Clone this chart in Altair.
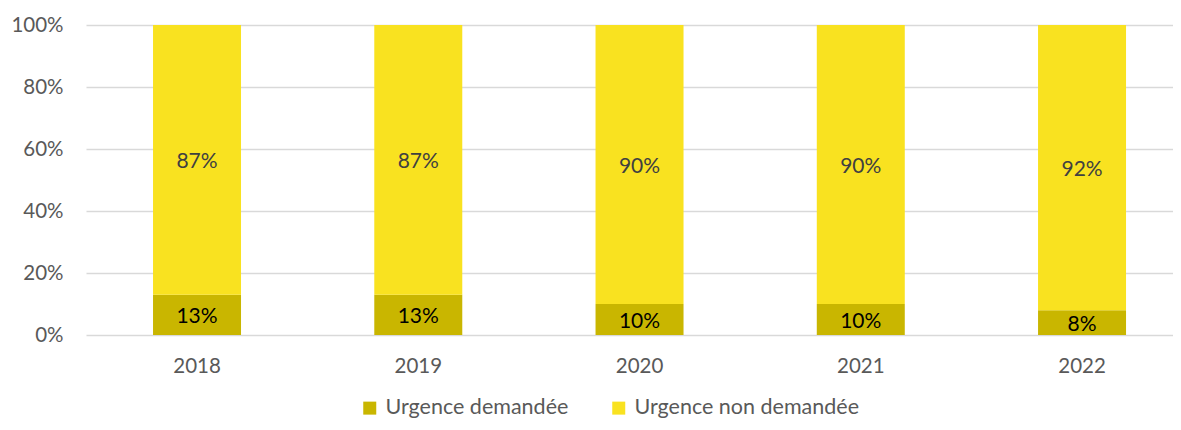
import altair as alt
import pandas as pd

years = ["2018", "2019", "2020", "2021", "2022"]
series = ["Urgence demandée", "Urgence non demandée"]
urgence_demandee = [13, 13, 10, 10, 8]
urgence_non_demandee = [87, 87, 90, 90, 92]
colors = ["#C9B600", "#F9E220"]
label_colors = ["#000000", "#404040"]

rows = []
for i, y in enumerate(years):
    rows.append({"year": y, "serie": series[0], "value": urgence_demandee[i], "ord": 0})
    rows.append({"year": y, "serie": series[1], "value": urgence_non_demandee[i], "ord": 1})
df = pd.DataFrame(rows)

FONT = "Lato"

xscale = alt.Scale(domain=years, paddingInner=0.6023, paddingOuter=0.2576, align=0.588)
yscale = alt.Scale(domain=[0, 100], nice=False)

base = alt.Chart(df).transform_stack(
    stack="value", groupby=["year"], as_=["v0", "v1"], sort=[alt.SortField("ord")]
).transform_calculate(
    mid="(datum.v0 + datum.v1) / 2",
    label="datum.value + '%'",
)

bars = base.mark_bar().encode(
    x=alt.X("year:N", scale=xscale, title=None,
            axis=alt.Axis(labelAngle=0, ticks=False, domain=False, labelPadding=21,
                          labelFontSize=20.5, labelColor="#595959", labelFont=FONT)),
    y=alt.Y("v0:Q", scale=yscale, title=None,
            axis=alt.Axis(values=[0, 20, 40, 60, 80, 100], labelExpr="datum.value + '%'",
                          ticks=False, domain=False, labelPadding=23, gridColor="#D9D9D9",
                          gridWidth=1.5, labelFontSize=20.5, labelColor="#595959", labelFont=FONT)),
    y2="v1:Q",
    color=alt.Color("serie:N", scale=alt.Scale(domain=series, range=colors),
                    legend=alt.Legend(title=None, orient="none", direction="horizontal",
                                      legendX=273, legendY=372, symbolType="square",
                                      symbolSize=169, symbolStrokeWidth=0, labelFontSize=21.5,
                                      labelColor="#595959", labelFont=FONT, columnPadding=39,
                                      labelOffset=5, labelLimit=400, symbolOpacity=1)),
)

texts = base.mark_text(fontSize=21, font=FONT, baseline="middle", dy=2).encode(
    x=alt.X("year:N", scale=xscale),
    y=alt.Y("mid:Q", scale=yscale),
    text="label:N",
    color=alt.Color("serie:N", scale=alt.Scale(domain=series, range=label_colors), legend=None),
)

chart = alt.layer(bars, texts).resolve_scale(color="independent").properties(
    width=1087, height=310,
    autosize=alt.AutoSizeParams(type="none"),
    padding={"left": 78, "top": 17, "right": 0, "bottom": 86},
).configure_view(stroke=None)

chart.save("out.html", embed_options={"renderer": "svg", "actions": False})
